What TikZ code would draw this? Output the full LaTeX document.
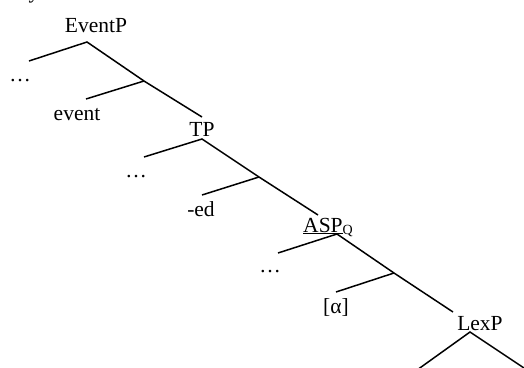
\documentclass[tikz,border=0pt]{standalone}
\usepackage{fontspec}
\setmainfont{Liberation Serif}
\begin{document}
\begin{tikzpicture}[x=1pt,y=-1pt,
  lbl/.style={anchor=base,inner sep=0pt,font=\fontsize{21.5}{25}\selectfont},
  edge/.style={line width=1.5pt}]
\useasboundingbox (0,0) rectangle (524,367);
\clip (0,0) rectangle (524,367);
\node[lbl] (frag) at (34,-2) {y};
% tree points
\coordinate (ev) at (87,42);
\coordinate (evl) at (29,61);
\coordinate (b1) at (144,81);
\coordinate (b1l) at (86,99);
\coordinate (tpt) at (202,117);
\coordinate (tp) at (202,139);
\coordinate (tpl) at (144,157);
\coordinate (b2) at (259,177);
\coordinate (b2l) at (202,195);
\coordinate (aspt) at (318,215);
\coordinate (asp) at (337,234);
\coordinate (aspl) at (278,253);
\coordinate (b3) at (394,273);
\coordinate (b3l) at (336,292);
\coordinate (lext) at (453,312);
\coordinate (lex) at (470,332);
\coordinate (lexl) at (417,370);
\coordinate (lexr) at (527,370);
% labels
\node[lbl] (EventP) at (96,32) {EventP};
\node[lbl] (d1) at (20,81) {…};
\node[lbl] (event) at (77,120) {event};
\node[lbl] (TP) at (202,136) {TP};
\node[lbl] (d2) at (136,177) {…};
\node[lbl] (ed) at (201,216) {-ed};
\node[lbl] (ASP) at (328,232) {\underline{ASP}\raisebox{-0.3ex}{\fontsize{14}{16}\selectfont Q}};
\node[lbl] (d3) at (270,272) {…};
\node[lbl] (alpha) at (336,313) {[α]};
\node[lbl] (LexP) at (480,330) {LexP};
% edges
\draw[edge] (evl) -- (ev) -- (b1) -- (tpt);
\draw[edge] (b1) -- (b1l);
\draw[edge] (tpl) -- (tp) -- (b2) -- (aspt);
\draw[edge] (b2) -- (b2l);
\draw[edge] (aspl) -- (asp) -- (b3) -- (lext);
\draw[edge] (b3) -- (b3l);
\draw[edge] (lexl) -- (lex) -- (lexr);
\end{tikzpicture}
\end{document}
